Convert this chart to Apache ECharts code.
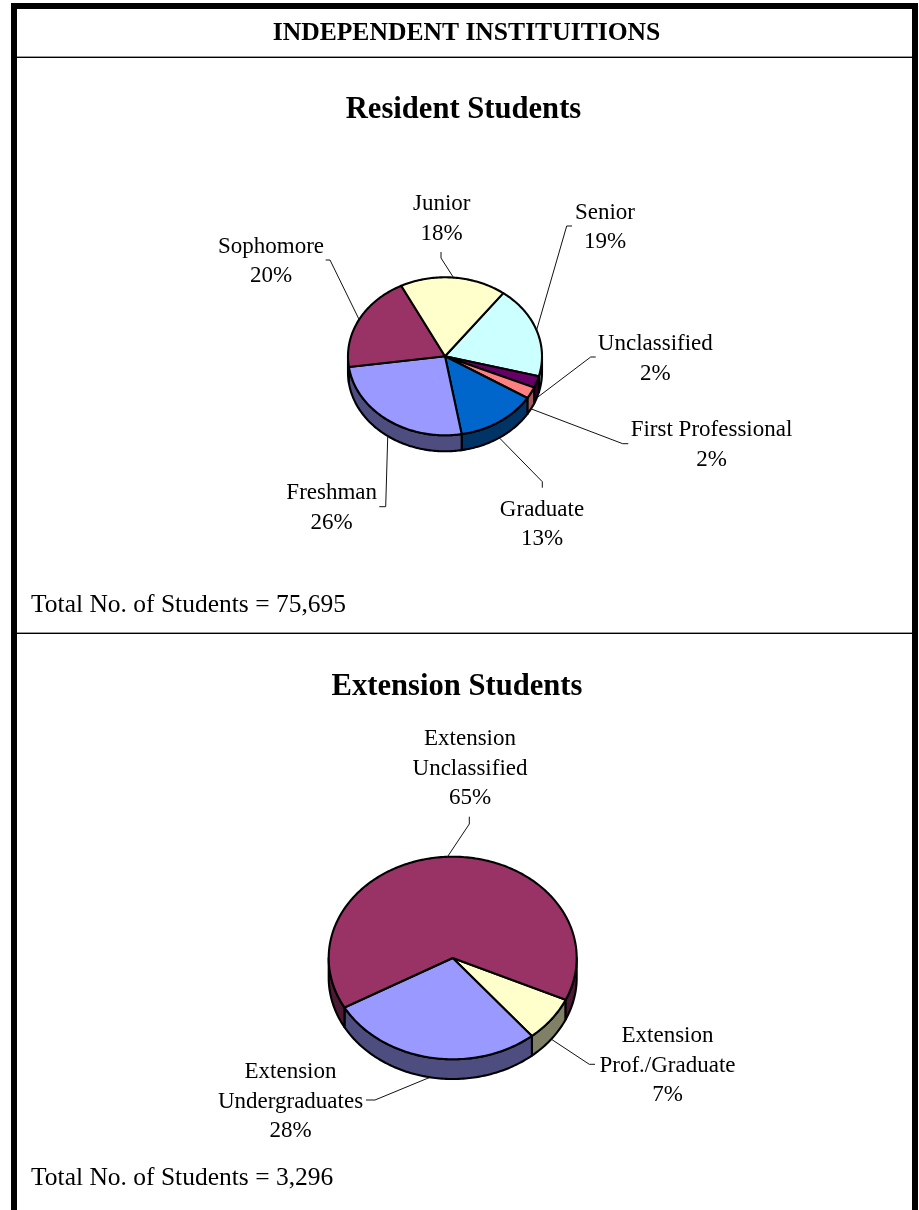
<!DOCTYPE html>
<html><head><meta charset="utf-8">
<style>html,body{margin:0;padding:0;background:#fff}#c{width:919px;height:1210px}</style>
<script src="https://cdn.jsdelivr.net/npm/echarts@6/dist/echarts.min.js"></script>
</head><body><div id="c"></div>
<script>
var residentCategories = ['Senior','Unclassified','First Professional','Graduate','Freshman','Sophomore','Junior'];
var residentValues = [18.8,2.4,2.4,13.4,25.6,19.7,17.7];
var residentTotal = '75,695';
var extensionCategories = ['Extension\nProf./Graduate','Extension\nUndergraduates','Extension\nUnclassified'];
var extensionValues = [7.2,27.9,64.9];
var extensionTotal = '3,296';

var FONT = '"Liberation Serif","Times New Roman",serif';
var COLORS = {Senior:['#CCFFFF','#668080'],Unclassified:['#660066','#330033'],'First Professional':['#FF8080','#A85858'],
  Graduate:['#0066CC','#003366'],Freshman:['#9999FF','#4D4D80'],Sophomore:['#993366','#4D1A33'],Junior:['#FFFFCC','#808066'],
  'Extension\nProf./Graduate':['#FFFFCC','#808066'],'Extension\nUndergraduates':['#9999FF','#4D4D80'],'Extension\nUnclassified':['#993366','#4D1A33']};

var residentPie = {cats:residentCategories, vals:residentValues, cx:445, cy:356.3, rx:97, ry:79, depth:16, start:36.9,
  labels:[[605,212.5],[655.3,344],[711.5,430],[542,509.5],[331.7,493],[271,246.5],[441.7,204]],
  leaders:[[[566.7,226],[572,226]],[[590.7,357],[595.7,357]],[[622.7,443.7],[628.3,443.7]],[[542.3,481.7],[542.3,487.7]],
           [[385.7,506.7],[379.3,506.7]],[[330,260],[325.7,260]],[[441,258],[441,252]]]};
var extensionPie = {cats:extensionCategories, vals:extensionValues, cx:452.7, cy:958, rx:124, ry:101.3, depth:19.7, start:114.4,
  labels:[[667.5,1036],[290.5,1072],[470,739]],
  leaders:[[[589.3,1064.3],[595,1064.3]],[[375,1100],[366,1100]],[[469.3,824],[469.3,816.7]]]};

function pt(p,deg,dy){var r=deg*Math.PI/180;return [p.cx+p.rx*Math.sin(r),p.cy-p.ry*Math.cos(r)+(dy||0)];}
function span(p,i){var sum=p.vals.reduce(function(a,b){return a+b},0),acc=0;for(var k=0;k<i;k++)acc+=p.vals[k];
  return [p.start+acc/sum*360,p.start+(acc+p.vals[i])/sum*360];}
function arc(p,a,b,dy){var n=Math.max(2,Math.ceil(Math.abs(b-a))),o=[];for(var i=0;i<=n;i++)o.push(pt(p,a+(b-a)*i/n,dy));return o;}
var LINE={stroke:'#000',lineWidth:2.1,lineJoin:'round'};

function sideSeries(p){return {type:'custom',coordinateSystem:'none',z:2,silent:true,data:p.vals.slice(),
  renderItem:function(params){var i=params.dataIndex,s=span(p,i),kids=[];
    [0,360].forEach(function(k){var a=Math.max(s[0],90+k),b=Math.min(s[1],270+k);
      if(b>a){kids.push({type:'polygon',shape:{points:arc(p,a,b,0).concat(arc(p,b,a,p.depth))},
        style:Object.assign({fill:COLORS[p.cats[i]][1]},LINE)});}});
    return {type:'group',children:kids};}};}
function topSeries(p){return {type:'custom',coordinateSystem:'none',z:3,silent:true,data:p.vals.slice(),
  renderItem:function(params){var i=params.dataIndex,s=span(p,i);
    return {type:'polygon',shape:{points:[[p.cx,p.cy]].concat(arc(p,s[0],s[1],0))},
      style:Object.assign({fill:COLORS[p.cats[i]][0]},LINE)};}};}
function labelSeries(p){return {type:'custom',coordinateSystem:'none',z:4,silent:true,data:p.vals.slice(),
  renderItem:function(params,api){var i=params.dataIndex,s=span(p,i),mid=(s[0]+s[1])/2,m=mid%360;
    var front=m>90&&m<270,a=pt(p,mid,front?p.depth:0),l=p.labels[i],lines=p.cats[i].split('\n');
    lines.push(Math.round(api.value(0))+'%');
    var kids=[{type:'polyline',shape:{points:[a].concat(p.leaders[i])},style:{stroke:'#111',lineWidth:1,fill:null}}];
    lines.forEach(function(t,j){kids.push({type:'text',x:l[0],y:l[1]+j*29.5,
      style:{text:t,fill:'#000',font:'23px '+FONT,textAlign:'center',textVerticalAlign:'middle'}});});
    return {type:'group',children:kids};}};}

function title(text,x,y,size){return {text:text,left:x,top:y,textAlign:'center',textVerticalAlign:'middle',padding:0,
  textStyle:{fontFamily:FONT,fontWeight:'bold',fontSize:size,color:'#000'}};}
function rect(x,y,w,h,c){return {type:'rect',shape:{x:x,y:y,width:w,height:h},style:{fill:c},silent:true};}
function total(v,y){return {type:'text',x:31,y:y,style:{text:'Total No. of Students = '+v,fill:'#000',font:'25.5px '+FONT,textVerticalAlign:'middle'},silent:true};}

var chart=echarts.init(document.getElementById('c'),null,{renderer:'canvas'});
chart.setOption({animation:false,backgroundColor:'#fff',
  title:[title('INDEPENDENT INSTITUITIONS',466.5,33,25.6),title('Resident Students',463.5,110,30.6),title('Extension Students',457,687,30.6)],
  graphic:[rect(11,3,907,6,'#000'),rect(11,3,6,1207,'#000'),rect(912,3,6,1207,'#000'),
    rect(17,56,895,1,'#999'),rect(17,57,895,1,'#000'),rect(17,632,895,1,'#999'),rect(17,633,895,1,'#000'),
    total(residentTotal,605),total(extensionTotal,1178)],
  series:[sideSeries(residentPie),topSeries(residentPie),labelSeries(residentPie),
          sideSeries(extensionPie),topSeries(extensionPie),labelSeries(extensionPie)]});
</script></body></html>
